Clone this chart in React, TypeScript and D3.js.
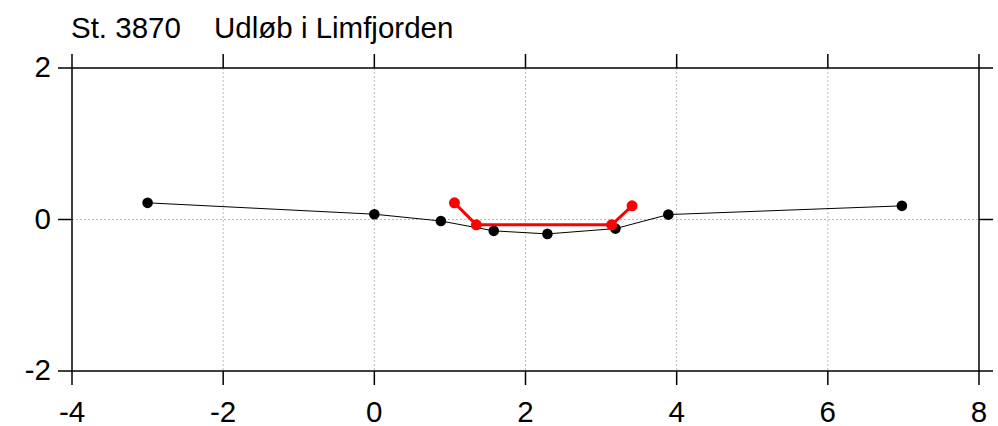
import React from "react";
import * as d3 from "d3";

const stationLabel = "St. 3870";
const stationName = "Udløb i Limfjorden";
const xTicks = [-4, -2, 0, 2, 4, 6, 8];
const yTicks = [-2, 0, 2];
const xGrid = [-2, 0, 2, 4, 6];
const yGrid = [0];
const blackX = [-3, 0, 0.88, 1.58, 2.29, 3.19, 3.89, 6.98];
const blackY = [0.22, 0.07, -0.02, -0.15, -0.19, -0.12, 0.065, 0.18];
const redX = [1.06, 1.35, 3.14, 3.41];
const redY = [0.22, -0.07, -0.07, 0.18];

export default function App() {
  const W = 998, H = 426;
  const L = 72, R = 979, T = 68, B = 371;
  const x = d3.scaleLinear().domain([-4, 8]).range([L, R]);
  const y = d3.scaleLinear().domain([-2, 2]).range([B, T]);
  const line = d3.line<[number, number]>().x(d => x(d[0])).y(d => y(d[1]));
  const black: [number, number][] = blackX.map((v, i) => [v, blackY[i]]);
  const red: [number, number][] = redX.map((v, i) => [v, redY[i]]);
  const font = "'Liberation Sans', Arial, Helvetica, sans-serif";
  const tl = 14;
  const fs = 29.5;
  return (
    <svg width={W} height={H} style={{ position: "absolute", left: 0, top: 0, background: "#fff" }} fontFamily={font}>
      <rect x={0} y={0} width={W} height={H} fill="#fff" />
      <text x={71} y={38.3} fontSize={fs}>{stationLabel}</text>
      <text x={214} y={38.3} fontSize={fs}>{stationName}</text>
      {xGrid.map(v => (
        <line key={"gx" + v} x1={x(v)} x2={x(v)} y1={T} y2={B} stroke="#bbb" strokeWidth={1} strokeDasharray="2,2" />
      ))}
      {yGrid.map(v => (
        <line key={"gy" + v} x1={L} x2={R} y1={y(v)} y2={y(v)} stroke="#bbb" strokeWidth={1} strokeDasharray="2,2" />
      ))}
      <rect x={L} y={T} width={R - L} height={B - T} fill="none" stroke="#000" strokeWidth={1.5} />
      {xTicks.map(v => (
        <g key={"xt" + v}>
          <line x1={x(v)} x2={x(v)} y1={B} y2={B + tl} stroke="#000" strokeWidth={1.5} />
          <line x1={x(v)} x2={x(v)} y1={T} y2={T - tl} stroke="#000" strokeWidth={1.5} />
          <text x={x(v)} y={421.7} fontSize={fs} textAnchor="middle">{v}</text>
        </g>
      ))}
      {yTicks.map(v => (
        <g key={"yt" + v}>
          <line x1={L - tl} x2={L} y1={y(v)} y2={y(v)} stroke="#000" strokeWidth={1.5} />
          <line x1={R} x2={R + tl} y1={y(v)} y2={y(v)} stroke="#000" strokeWidth={1.5} />
          <text x={51} y={y(v) + 9} fontSize={fs} textAnchor="end">{v}</text>
        </g>
      ))}
      <path d={line(black) || ""} fill="none" stroke="#000" strokeWidth={1} />
      {black.map((d, i) => (
        <circle key={"b" + i} cx={x(d[0])} cy={y(d[1])} r={5.3} fill="#000" />
      ))}
      <path d={line(red) || ""} fill="none" stroke="#f00" strokeWidth={3} />
      {red.map((d, i) => (
        <circle key={"r" + i} cx={x(d[0])} cy={y(d[1])} r={5.5} fill="#f00" />
      ))}
    </svg>
  );
}
